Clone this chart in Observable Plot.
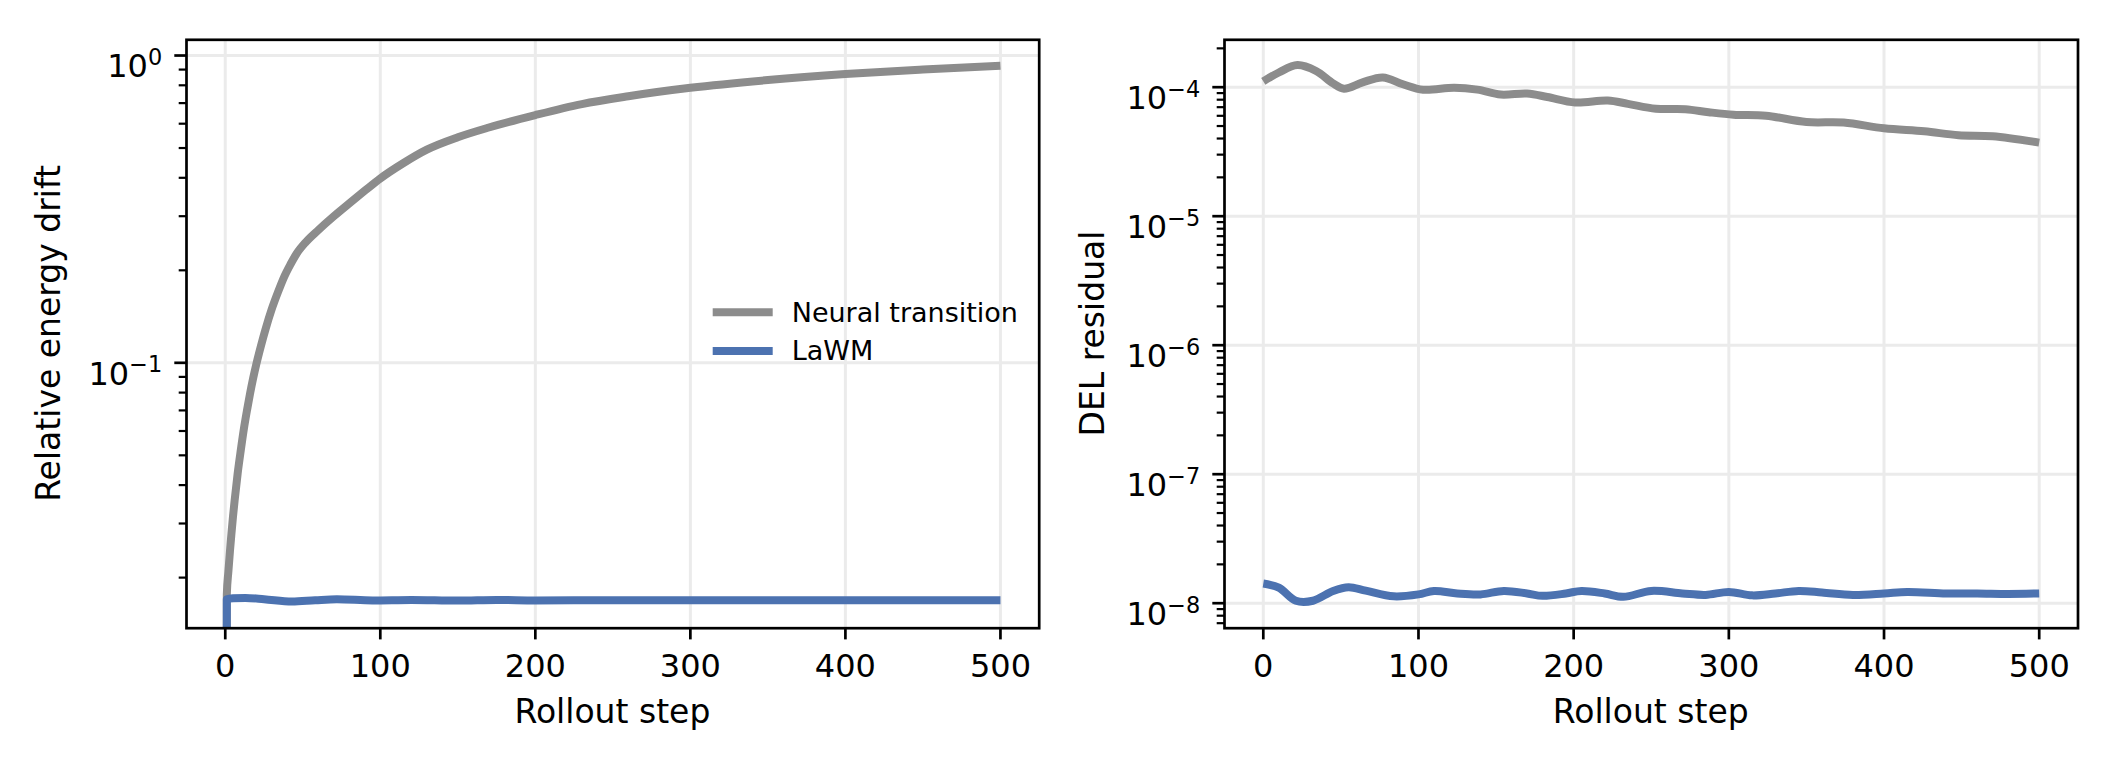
<!DOCTYPE html>
<html>
<head>
<meta charset="utf-8">
<script src="https://cdn.jsdelivr.net/npm/d3@7"></script>
<script src="https://cdn.jsdelivr.net/npm/@observablehq/plot@0.6"></script>
<style>
  body { margin: 0; background: #fff; }
  #fig { position: relative; width: 2112px; height: 768px; background: #fff; font-family: "DejaVu Sans", sans-serif; }
  #fig svg { position: absolute; top: 0; }
</style>
</head>
<body>
<div id="fig"></div>
<script>
// ---- Relative energy drift (left panel) ----
const neuralDriftSteps = [0, 1, 2, 3, 4, 5, 6, 8, 10, 12, 14, 16, 18, 20, 23, 26, 30, 34, 38, 42, 46, 52, 60, 70, 80, 90, 100, 115, 130, 150, 170, 200, 230, 260, 300, 350, 400, 450, 500];
const neuralDrift      = [0, 0.01762, 0.02089, 0.02427, 0.02786, 0.03162, 0.03548, 0.04365, 0.05188, 0.06095, 0.06998, 0.07943, 0.08913, 0.09886, 0.1135, 0.1288, 0.1496, 0.1698, 0.1905, 0.2089, 0.2265, 0.2472, 0.2704, 0.2999, 0.3304, 0.3631, 0.3981, 0.447, 0.494, 0.542, 0.583, 0.640, 0.695, 0.737, 0.785, 0.832, 0.870, 0.900, 0.926];

const lawmDriftSteps = [0, 1, 5, 13, 25, 43, 58, 72, 95, 120, 150, 175, 200, 250, 300, 350, 400, 450, 500];
const lawmDrift      = [0, 0.0170, 0.01712, 0.01718, 0.01702, 0.01672, 0.01688, 0.01700, 0.01686, 0.01692, 0.01684, 0.01692, 0.01686, 0.01688, 0.01687, 0.01688, 0.01688, 0.01688, 0.01688];

// ---- DEL residual (right panel) ----
const neuralDelSteps = [0, 10, 22, 34, 45, 52, 64, 77, 90, 103, 123, 138, 153, 170, 183, 201, 222, 235, 253, 272, 287, 303, 324, 350, 374, 400, 426, 448, 470, 500];
const neuralDel      = [1.111e-4, 1.30e-4, 1.483e-4, 1.334e-4, 1.07e-4, 0.974e-4, 1.09e-4, 1.19e-4, 1.054e-4, 0.957e-4, 0.991e-4, 0.957e-4, 0.877e-4, 0.893e-4, 0.84e-4, 0.762e-4, 0.789e-4, 0.743e-4, 0.681e-4, 0.675e-4, 0.64e-4, 0.612e-4, 0.601e-4, 0.537e-4, 0.532e-4, 0.48e-4, 0.455e-4, 0.424e-4, 0.417e-4, 0.372e-4];

const lawmDelSteps = [0, 10, 21, 32, 45, 55, 66, 84, 100, 110, 125, 140, 155, 170, 180, 195, 205, 220, 232, 250, 270, 285, 300, 315, 330, 345, 360, 380, 400, 415, 440, 460, 480, 500];
const lawmDel      = [1.42e-8, 1.32e-8, 1.045e-8, 1.045e-8, 1.245e-8, 1.33e-8, 1.25e-8, 1.13e-8, 1.17e-8, 1.245e-8, 1.19e-8, 1.17e-8, 1.245e-8, 1.19e-8, 1.14e-8, 1.19e-8, 1.245e-8, 1.19e-8, 1.12e-8, 1.245e-8, 1.19e-8, 1.16e-8, 1.223e-8, 1.15e-8, 1.19e-8, 1.245e-8, 1.212e-8, 1.16e-8, 1.19e-8, 1.223e-8, 1.19e-8, 1.19e-8, 1.18e-8, 1.19e-8];

// ---- Series names, colours, axes ----
const seriesNames = ["Neural transition", "LaWM"];
const seriesColors = ["#8c8c8c", "#4c72b0"];
const xTicks = [0, 100, 200, 300, 400, 500];
const xDomain = [-25, 525];
const driftDomain = [0.01369, 1.125];
const driftMajor = [0.1, 1];
const delDomain = [6.4e-9, 2.33e-4];
const delMajor = [1e-8, 1e-7, 1e-6, 1e-5, 1e-4];
const minorMantissas = [2, 3, 4, 5, 6, 7, 8, 9];
const xLabel = "Rollout step";
const yLabels = ["Relative energy drift", "DEL residual"];

// log axes cannot place a zero; pin such points far below the frame and clip,
// so the curve drops straight out of the axes at step 0
const LOG_FLOOR = 1e-9;
const LINE_WIDTH = 8;

function minorTicks(domain) {
  const out = [];
  for (let e = Math.floor(Math.log10(domain[0])); e <= Math.ceil(Math.log10(domain[1])); e++) {
    for (const m of minorMantissas) {
      const v = m * Math.pow(10, e);
      if (v >= domain[0] && v <= domain[1]) out.push(v);
    }
  }
  return out;
}

function rows(steps, values, series) {
  return steps.map((s, i) => ({step: s, value: values[i], series}));
}

const H = 768, MT = 39.3, MB = 140.3;

function panel({left, marginLeft, marginRight, yDomain, majors, series, curve}) {
  const svg = Plot.plot({
    width: 1056,
    height: H,
    marginLeft, marginRight, marginTop: MT, marginBottom: MB,
    style: {fontFamily: "DejaVu Sans, sans-serif", fontSize: "32px", color: "black", background: "white", overflow: "visible"},
    x: {domain: xDomain},
    y: {type: "log", domain: yDomain},
    color: {domain: seriesNames, range: seriesColors},
    marks: [
      Plot.gridX(xTicks, {stroke: "#ebebeb", strokeOpacity: 1, strokeWidth: 3}),
      Plot.gridY(majors, {stroke: "#ebebeb", strokeOpacity: 1, strokeWidth: 3}),
      ...series.map(d => Plot.line(d, {
        x: "step",
        y: r => Math.max(r.value, LOG_FLOOR),
        stroke: "series",
        strokeWidth: LINE_WIDTH,
        strokeLinecap: "butt",
        strokeLinejoin: "round",
        curve,
        clip: true
      })),
      Plot.frame({stroke: "black", strokeWidth: 2.7}),
      Plot.axisX({ticks: xTicks, tickSize: 11.7, tickPadding: 14.6, strokeWidth: 2.7, label: null, tickFormat: d => String(d)}),
      Plot.axisY({ticks: minorTicks(yDomain), tickSize: 7.3, strokeWidth: 2.2, fill: "none", label: null, tickFormat: () => ""}),
      Plot.axisY({ticks: majors, tickSize: 11.7, tickPadding: 12.6, strokeWidth: 2.7, label: null,
                  tickFormat: d => "10^" + Math.round(Math.log10(d))})
    ]
  });
  svg.style.left = left + "px";
  // 10^k labels: base digits plus a raised, smaller exponent
  d3.select(svg).selectAll('g[aria-label="y-axis tick label"] text').each(function () {
    const t = d3.select(this);
    const s = t.text();
    if (!s.includes("^")) return;
    const [base, exp] = s.split("^");
    t.text(null).attr("dy", "11.7");
    t.append("tspan").text(base);
    t.append("tspan").attr("dy", -12.3).attr("font-size", 22.4).text(exp.replace("-", "\u2212"));
  });
  return svg;
}

const fig = document.getElementById("fig");

const leftSvg = panel({
  left: 0, marginLeft: 186, marginRight: 17.3,
  yDomain: driftDomain, majors: driftMajor, curve: "monotone-x",
  series: [rows(neuralDriftSteps, neuralDrift, seriesNames[0]), rows(lawmDriftSteps, lawmDrift, seriesNames[1])]
});
const rightSvg = panel({
  left: 1056, marginLeft: 168, marginRight: 34.5,
  yDomain: delDomain, majors: delMajor, curve: "catmull-rom",
  series: [rows(neuralDelSteps, neuralDel, seriesNames[0]), rows(lawmDelSteps, lawmDel, seriesNames[1])]
});
fig.appendChild(leftSvg);
fig.appendChild(rightSvg);

// axis titles
function titles(svg, yLabel, xCenter, yLabelX) {
  const s = d3.select(svg);
  s.append("text").attr("x", xCenter).attr("y", 723).attr("text-anchor", "middle")
    .attr("font-size", 33).attr("fill", "black").text(xLabel);
  s.append("text").attr("transform", `translate(${yLabelX},333.5) rotate(-90)`).attr("text-anchor", "middle")
    .attr("font-size", 33).attr("fill", "black").text(yLabel);
}
titles(leftSvg, yLabels[0], 612.4, 60);
titles(rightSvg, yLabels[1], 1650.7 - 1056, 1104 - 1056);

// legend (left panel)
const lg = d3.select(leftSvg).append("g").attr("aria-label", "legend");
seriesNames.forEach((name, i) => {
  const y = 312.3 + i * 38.7;
  lg.append("line").attr("x1", 712.7).attr("x2", 772.7).attr("y1", y).attr("y2", y)
    .attr("stroke", seriesColors[i]).attr("stroke-width", LINE_WIDTH);
  lg.append("text").attr("x", 791.7).attr("y", y + 9.3).attr("text-anchor", "start")
    .attr("font-size", 27).attr("fill", "black").text(name);
});
</script>
</body>
</html>
